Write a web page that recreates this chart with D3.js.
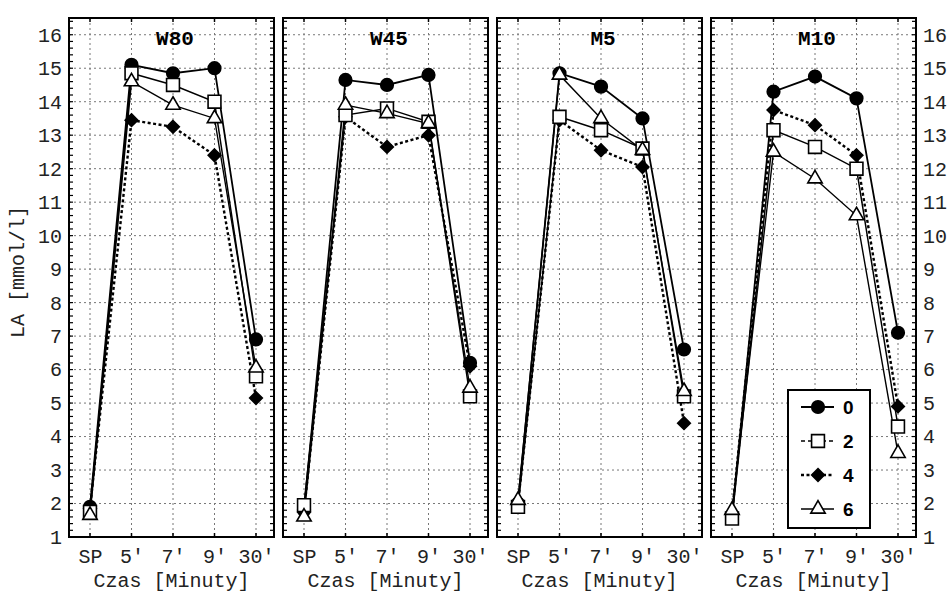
<!DOCTYPE html>
<html>
<head>
<meta charset="utf-8">
<script src="https://cdn.jsdelivr.net/npm/d3@7"></script>
<style>
  body { margin: 0; background: #fff; }
  svg { display: block; }
</style>
</head>
<body>
<div id="chart"></div>
<script>
// categories and tick labels
var categories = ["SP", "5'", "7'", "9'", "30'"];
var panelNames = ["W80", "W45", "M5", "M10"];
var groups = ["0", "2", "4", "6"];
var yTicks = d3.range(1, 17);

// LA values per panel, one row per group (0, 2, 4, 6)
var W80 = [
  [1.9, 15.1, 14.85, 15.0, 6.9],
  [1.75, 14.85, 14.5, 14.0, 5.8],
  [1.85, 13.45, 13.25, 12.4, 5.15],
  [1.65, 14.6, 13.9, 13.5, 6.05]
];
var W45 = [
  [1.8, 14.65, 14.5, 14.8, 6.2],
  [1.95, 13.6, 13.8, 13.4, 5.2],
  [1.75, 13.55, 12.65, 13.0, 6.1],
  [1.6, 13.9, 13.65, 13.35, 5.45]
];
var M5 = [
  [2.0, 14.85, 14.45, 13.5, 6.6],
  [1.9, 13.55, 13.15, 12.6, 5.2],
  [2.0, 13.45, 12.55, 12.05, 4.4],
  [2.1, 14.8, 13.5, 12.55, 5.35]
];
var M10 = [
  [1.6, 14.3, 14.75, 14.1, 7.1],
  [1.55, 13.15, 12.65, 12.0, 4.3],
  [1.7, 13.75, 13.3, 12.4, 4.9],
  [1.8, 12.5, 11.7, 10.6, 3.5]
];
var panelData = [W80, W45, M5, M10];

var width = 951, height = 594;
var plotTop = 18, plotBottom = 537, panelW = 205, step = 214, left0 = 69;

var svg = d3.select("#chart").append("svg")
    .attr("width", width)
    .attr("height", height);

var y = d3.scaleLinear().domain([1, 16.5]).range([plotBottom, plotTop]);

// squat diamond, a bit wider than d3's own
var diamond = {
  draw: function(ctx, size) {
    var r = Math.sqrt(size / 2);
    ctx.moveTo(0, -r);
    ctx.lineTo(r, 0);
    ctx.lineTo(0, r);
    ctx.lineTo(-r, 0);
    ctx.closePath();
  }
};

// series styles: circle, square, diamond, triangle
var styles = [
  {sym: d3.symbolCircle, size: 125, fill: "#000", dash: null, lw: 1.8},
  {sym: d3.symbolSquare, size: 165, fill: "#fff", dash: null, lw: 1.5},
  {sym: diamond, size: 80, fill: "#000", dash: "3,2.5", lw: 2.4},
  {sym: d3.symbolTriangle, size: 90, fill: "#fff", dash: null, lw: 1.4}
];
var drawOrder = [2, 0, 1, 3];

function marker(g, s, cx, cy) {
  g.append("path")
    .attr("d", d3.symbol().type(s.sym).size(s.size)())
    .attr("transform", "translate(" + cx + "," + cy + ")")
    .attr("fill", s.fill)
    .attr("stroke", "#000")
    .attr("stroke-width", 1.6);
}

var monoFont = "Liberation Mono, DejaVu Sans Mono, monospace";

panelNames.forEach(function(name, p) {
  var left = left0 + p * step;
  var x = d3.scalePoint().domain(categories).range([left + 21, left + 187]);
  var g = svg.append("g");

  // grid
  g.selectAll(".hg").data(yTicks.filter(function(d) { return d > 1; }))
    .enter().append("line")
    .attr("x1", left).attr("x2", left + panelW)
    .attr("y1", function(d) { return y(d); }).attr("y2", function(d) { return y(d); })
    .attr("stroke", "#777").attr("stroke-width", 1).attr("stroke-dasharray", "2,3");
  g.selectAll(".vg").data(categories)
    .enter().append("line")
    .attr("x1", function(d) { return x(d); }).attr("x2", function(d) { return x(d); })
    .attr("y1", plotTop).attr("y2", plotBottom)
    .attr("stroke", "#777").attr("stroke-width", 1).attr("stroke-dasharray", "2,3");

  // minor ticks on left and right edges
  var minor = d3.range(1, 16.51, 0.2);
  g.selectAll(".ml").data(minor).enter().append("line")
    .attr("x1", left).attr("x2", left + 4)
    .attr("y1", function(d) { return y(d); }).attr("y2", function(d) { return y(d); })
    .attr("stroke", "#000").attr("stroke-width", 1.2);
  g.selectAll(".mr").data(minor).enter().append("line")
    .attr("x1", left + panelW - 4).attr("x2", left + panelW)
    .attr("y1", function(d) { return y(d); }).attr("y2", function(d) { return y(d); })
    .attr("stroke", "#000").attr("stroke-width", 1.2);
  g.selectAll(".bt").data(categories).enter().append("line")
    .attr("x1", function(d) { return x(d); }).attr("x2", function(d) { return x(d); })
    .attr("y1", plotBottom - 4).attr("y2", plotBottom)
    .attr("stroke", "#000").attr("stroke-width", 1.5);
  g.selectAll(".tt").data(categories).enter().append("line")
    .attr("x1", function(d) { return x(d); }).attr("x2", function(d) { return x(d); })
    .attr("y1", plotTop).attr("y2", plotTop + 4)
    .attr("stroke", "#000").attr("stroke-width", 1.5);

  // lines and markers
  var line = d3.line()
    .x(function(d, i) { return x(categories[i]); })
    .y(function(d) { return y(d); });
  drawOrder.forEach(function(k) {
    var s = styles[k];
    g.append("path")
      .datum(panelData[p][k])
      .attr("d", line)
      .attr("fill", "none")
      .attr("stroke", "#000")
      .attr("stroke-width", s.lw)
      .attr("stroke-dasharray", s.dash);
  });
  drawOrder.forEach(function(k) {
    var s = styles[k];
    panelData[p][k].forEach(function(v, i) {
      marker(g, s, x(categories[i]), y(v));
    });
  });

  // frame
  g.append("rect")
    .attr("x", left).attr("y", plotTop)
    .attr("width", panelW).attr("height", plotBottom - plotTop)
    .attr("fill", "none").attr("stroke", "#000").attr("stroke-width", 2);

  // title
  g.append("text")
    .attr("x", x("7'") + 2).attr("y", 45)
    .attr("text-anchor", "middle")
    .attr("font-family", monoFont)
    .attr("font-size", 21).attr("font-weight", "bold")
    .text(name);

  // x tick labels
  var xAxis = d3.axisBottom(x).tickSize(0).tickPadding(12);
  var xa = g.append("g").attr("transform", "translate(0," + plotBottom + ")").call(xAxis);
  xa.select(".domain").remove();
  xa.selectAll("text").attr("font-size", 20).attr("fill", "#222")
    .attr("font-family", monoFont);

  g.append("text")
    .attr("x", left + panelW / 2).attr("y", 587)
    .attr("text-anchor", "middle")
    .attr("font-family", monoFont)
    .attr("font-size", 20).attr("fill", "#222")
    .text("Czas [Minuty]");
});

// left and right y axes
var ya = svg.append("g").attr("transform", "translate(" + left0 + ",0)")
  .call(d3.axisLeft(y).tickValues(yTicks).tickSize(0).tickPadding(7).tickFormat(d3.format("d")));
ya.select(".domain").remove();
ya.selectAll("text").attr("font-size", 20).attr("fill", "#222")
  .attr("font-family", monoFont);

var rightEdge = left0 + 3 * step + panelW;
var yr = svg.append("g").attr("transform", "translate(" + rightEdge + ",0)")
  .call(d3.axisRight(y).tickValues(yTicks).tickSize(0).tickPadding(7).tickFormat(d3.format("d")));
yr.select(".domain").remove();
yr.selectAll("text").attr("font-size", 20).attr("fill", "#222")
  .attr("font-family", monoFont);

svg.append("text")
  .attr("transform", "translate(24," + 272 + ") rotate(-90)")
  .attr("text-anchor", "middle")
  .attr("font-family", monoFont)
  .attr("font-size", 20).attr("fill", "#222")
  .text("LA [mmol/l]");

// legend
var lg = svg.append("g");
lg.append("rect")
  .attr("x", 788).attr("y", 390).attr("width", 82).attr("height", 138)
  .attr("fill", "#fff").attr("stroke", "#000").attr("stroke-width", 2);
var legY = d3.scalePoint().domain(groups).range([407, 509]);
groups.forEach(function(gname, k) {
  var s = styles[k];
  var cy = legY(gname);
  lg.append("line")
    .attr("x1", 801).attr("x2", 834).attr("y1", cy).attr("y2", cy)
    .attr("stroke", "#000").attr("stroke-width", s.lw)
    .attr("stroke-dasharray", k === 1 ? "4,3" : s.dash);
  marker(lg, s, 818, cy);
  lg.append("text")
    .attr("x", 843).attr("y", cy + 7)
    .attr("font-family", "Liberation Sans, Arial, sans-serif")
    .attr("font-weight", "bold").attr("font-size", 19)
    .text(gname);
});
</script>
</body>
</html>
